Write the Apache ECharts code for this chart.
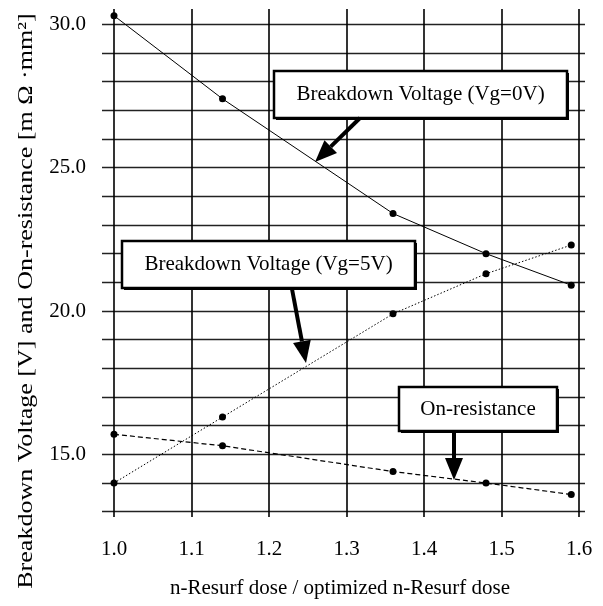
<!DOCTYPE html>
<html>
<head>
<meta charset="utf-8">
<script src="https://cdn.jsdelivr.net/npm/echarts@6/dist/echarts.min.js"></script>
<style>
  html, body { margin: 0; padding: 0; background: #fff; }
  #chart { width: 603px; height: 606px; }
</style>
</head>
<body>
<div id="chart"></div>
<script>
// n-Resurf dose normalised to the optimised dose
const doseRatio = [1.0, 1.14, 1.36, 1.48, 1.59];
// Breakdown voltage [V] with gate at 0 V
const bvVg0 = [30.3, 27.4, 23.4, 22.0, 20.9];
// Breakdown voltage [V] with gate at 5 V
const bvVg5 = [14.0, 16.3, 19.9, 21.3, 22.3];
// Specific on-resistance [mOhm*mm^2]
const onResistance = [15.7, 15.3, 14.4, 14.0, 13.6];

const xTicks = { min: 1.0, max: 1.6, step: 0.1 };
const yTicks = { min: 13, max: 30, step: 1, labelEvery: 5 };

const FONT = 'Liberation Serif, Times New Roman, serif';

function pairs(xs, ys) { return xs.map((x, i) => [x, ys[i]]); }

const chart = echarts.init(document.getElementById('chart'), null, { renderer: 'canvas' });

// Layout of the three overlaid grids (horizontal rules, vertical rules, data)
const plot = { left: 114, width: 465, top: 24.3, height: 487.4 };

function arrow(x1, y1, x2, y2, headLen, headWidth) {
  const dx = x2 - x1, dy = y2 - y1;
  const len = Math.sqrt(dx * dx + dy * dy);
  const ux = dx / len, uy = dy / len;
  const bx = x2 - ux * headLen, by = y2 - uy * headLen;
  const px = -uy * headWidth / 2, py = ux * headWidth / 2;
  return [
    { type: 'line', z: 20, shape: { x1: x1, y1: y1, x2: bx, y2: by },
      style: { stroke: '#000', lineWidth: 4 } },
    { type: 'polygon', z: 20,
      shape: { points: [[x2, y2], [bx + px, by + py], [bx - px, by - py]] },
      style: { fill: '#000' } }
  ];
}

function labelBox(x, y, w, h, text) {
  return [
    { type: 'rect', z: 18, shape: { x: x + 2, y: y + 2, width: w, height: h },
      style: { fill: '#000' } },
    { type: 'rect', z: 19, shape: { x: x, y: y, width: w, height: h },
      style: { fill: '#fff', stroke: '#000', lineWidth: 2.5 } },
    { type: 'text', z: 21, x: x + w / 2, y: y + h / 2,
      style: { text: text, fill: '#000', font: '21px ' + FONT, align: 'center', verticalAlign: 'middle' } }
  ];
}

const graphics = [].concat(
  labelBox(274, 71, 293, 47, 'Breakdown Voltage (Vg=0V)'),
  arrow(360, 118, 315, 162, 22, 18),
  labelBox(122, 241, 293, 47, 'Breakdown Voltage (Vg=5V)'),
  arrow(292, 289, 306, 363, 22, 18),
  labelBox(399, 387, 158, 44, 'On-resistance'),
  arrow(454, 431, 454, 480, 22, 18),
  [
    { type: 'text', x: 26, y: 301, rotation: Math.PI / 2, scaleX: 1.24,
      style: { text: 'Breakdown Voltage [V] and On-resistance [m Ω ·mm²]', fill: '#000',
        font: '21px ' + FONT, align: 'center', verticalAlign: 'middle' } },
    { type: 'text', x: 340, y: 588,
      style: { text: 'n-Resurf dose / optimized n-Resurf dose', fill: '#000',
        font: '21px ' + FONT, align: 'center', verticalAlign: 'middle' } }
  ]
);

const option = {
  backgroundColor: '#fff',
  animation: false,
  grid: [
    // horizontal rules and value labels (rules run slightly past the data area)
    { left: 102, width: 483, top: plot.top, height: plot.height },
    // vertical rules and dose labels (rules run slightly past the data area)
    { left: plot.left, width: plot.width, top: 9, height: 508 },
    // data area
    { left: plot.left, width: plot.width, top: plot.top, height: plot.height }
  ],
  xAxis: [
    { gridIndex: 0, type: 'value', min: 0, max: 1, show: false },
    { gridIndex: 1, type: 'value', min: xTicks.min, max: xTicks.max, interval: xTicks.step,
      axisLine: { show: false }, axisTick: { show: false },
      axisLabel: { margin: 22, color: '#000', fontFamily: FONT, fontSize: 21,
        formatter: v => v.toFixed(1) },
      splitLine: { show: true, lineStyle: { color: '#000', width: 1.6 } } },
    { gridIndex: 2, type: 'value', min: xTicks.min, max: xTicks.max, show: false }
  ],
  yAxis: [
    { gridIndex: 0, type: 'value', min: yTicks.min, max: yTicks.max, interval: yTicks.step,
      axisLine: { show: false }, axisTick: { show: false },
      axisLabel: { margin: 16, color: '#000', fontFamily: FONT, fontSize: 21,
        formatter: v => (v % yTicks.labelEvery === 0 ? v.toFixed(1) : '') },
      splitLine: { show: true, lineStyle: { color: '#222', width: 1.4 } } },
    { gridIndex: 1, type: 'value', min: 0, max: 1, show: false },
    { gridIndex: 2, type: 'value', min: yTicks.min, max: yTicks.max, show: false }
  ],
  series: [
    { name: 'Breakdown Voltage (Vg=0V)', type: 'line', xAxisIndex: 2, yAxisIndex: 2,
      data: pairs(doseRatio, bvVg0), clip: false, z: 10,
      symbol: 'circle', symbolSize: 7, itemStyle: { color: '#000' },
      lineStyle: { color: '#000', width: 1, type: 'solid' } },
    { name: 'Breakdown Voltage (Vg=5V)', type: 'line', xAxisIndex: 2, yAxisIndex: 2,
      data: pairs(doseRatio, bvVg5), clip: false, z: 10,
      symbol: 'circle', symbolSize: 7, itemStyle: { color: '#000' },
      lineStyle: { color: '#000', width: 1, type: [1.5, 2] } },
    { name: 'On-resistance', type: 'line', xAxisIndex: 2, yAxisIndex: 2,
      data: pairs(doseRatio, onResistance), clip: false, z: 10,
      symbol: 'circle', symbolSize: 7, itemStyle: { color: '#000' },
      lineStyle: { color: '#000', width: 1.2, type: [5, 3] } }
  ],
  graphic: graphics
};

chart.setOption(option);
</script>
</body>
</html>
